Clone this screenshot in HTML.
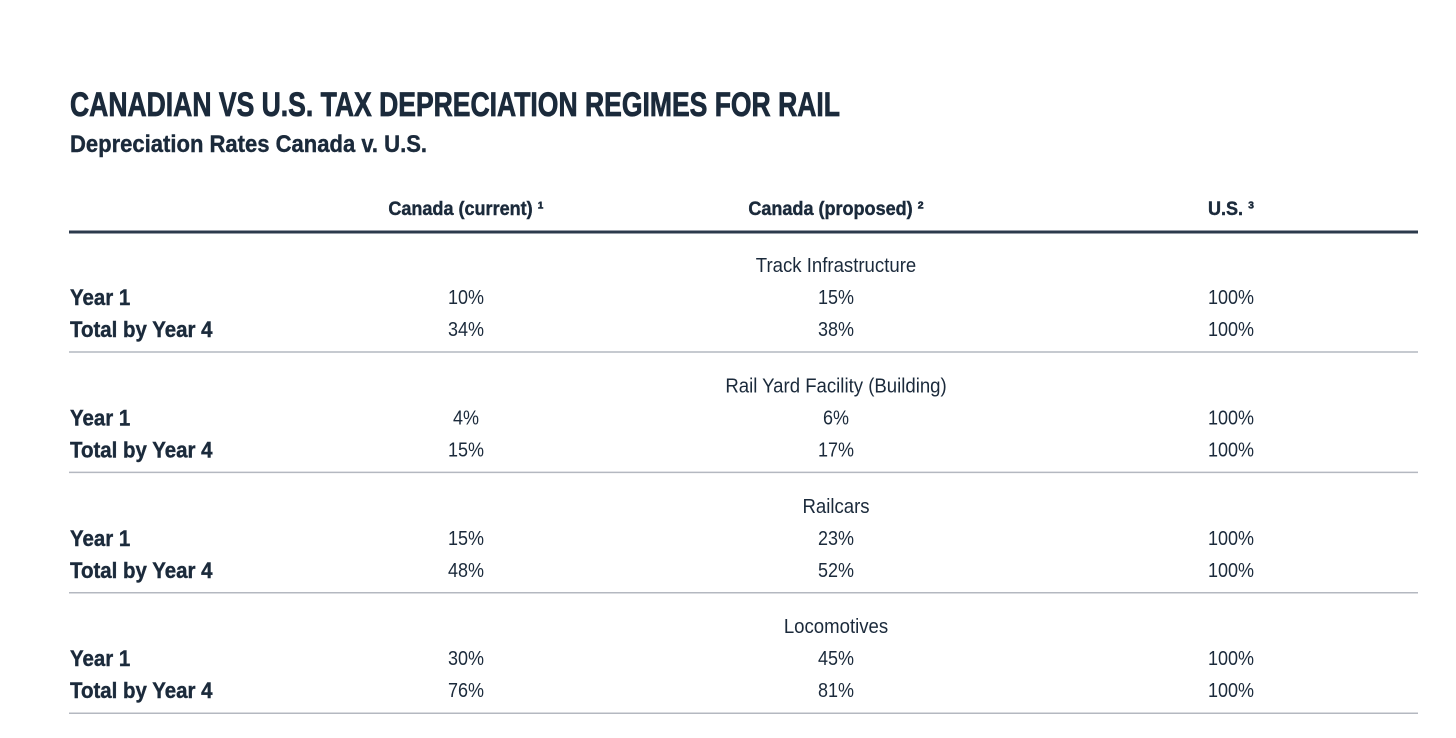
<!DOCTYPE html>
<html><head><meta charset="utf-8"><style>
html,body{margin:0;padding:0;background:#fff;}
svg{display:block;font-family:"Liberation Sans Narrow","Liberation Sans",sans-serif;}
</style></head><body>
<svg id="chart" width="1456" height="738" viewBox="0 0 1456 738">
<text x="70" y="116" font-size="34" font-weight="bold" fill="#1b2a3b" stroke="#1b2a3b" stroke-width="0.8" textLength="770" lengthAdjust="spacingAndGlyphs">CANADIAN VS U.S. TAX DEPRECIATION REGIMES FOR RAIL</text>
<text x="70" y="152" font-size="24" font-weight="bold" fill="#1b2a3b" stroke="#1b2a3b" stroke-width="0.4" textLength="357" lengthAdjust="spacingAndGlyphs">Depreciation Rates Canada v. U.S.</text>
<g id="body"></g>
</svg>
<script>
const columns = ["Canada (current) \u00b9", "Canada (proposed) \u00b2", "U.S. \u00b3"];
const sections = ["Track Infrastructure", "Rail Yard Facility (Building)", "Railcars", "Locomotives"];
const rowLabels = ["Year 1", "Total by Year 4"];
const canadaCurrent = [[10, 34], [4, 15], [15, 48], [30, 76]];
const canadaProposed = [[15, 38], [6, 17], [23, 52], [45, 81]];
const us = [[100, 100], [100, 100], [100, 100], [100, 100]];

const NS = "http://www.w3.org/2000/svg";
const g = document.getElementById("body");
const colX = [466, 836, 1231];
const navy = "#1b2a3b";
function txt(x, y, s, size, weight, anchor, sx) {
  const t = document.createElementNS(NS, "text");
  t.setAttribute("x", 0); t.setAttribute("y", 0);
  t.setAttribute("transform", "translate(" + x + "," + y + ") scale(" + sx + ",1)");
  t.setAttribute("font-size", size);
  if (weight) { t.setAttribute("font-weight", weight); t.setAttribute("stroke", navy); t.setAttribute("stroke-width", "0.4"); }
  t.setAttribute("text-anchor", anchor || "middle");
  t.setAttribute("fill", navy);
  t.textContent = s;
  g.appendChild(t);
  return t;
}
function line(y, w, c) {
  const l = document.createElementNS(NS, "line");
  l.setAttribute("x1", 69); l.setAttribute("x2", 1418);
  l.setAttribute("y1", y); l.setAttribute("y2", y);
  l.setAttribute("stroke", c); l.setAttribute("stroke-width", w);
  g.appendChild(l);
  return l;
}
columns.forEach((c, i) => {
  const t = txt(colX[i], 215, c, 19, "bold", "middle", 0.95);
  
  
});
const hl = line(232, 3, "#2c3a4c");


const series = [canadaCurrent, canadaProposed, us];
sections.forEach((s, si) => {
  const y0 = 265 + si * 120.4;
  const st = txt(836, y0 + 7, s, 20, null, "middle", 0.93);
  
  
  rowLabels.forEach((r, ri) => {
    const y = y0 + 32 + ri * 32 + 8;
    const rl = txt(70, y, r, 22, "bold", "start", 0.93);
    
    
    series.forEach((arr, ci) => {
      const v = txt(colX[ci], y - 1, arr[si][ri] + "%", 20, null, "middle", 0.9);
      
      
    });
  });
  const sep = line(y0 + 87, 1.5, "#b4b8c0");
  
  
});
</script>
</body></html>
